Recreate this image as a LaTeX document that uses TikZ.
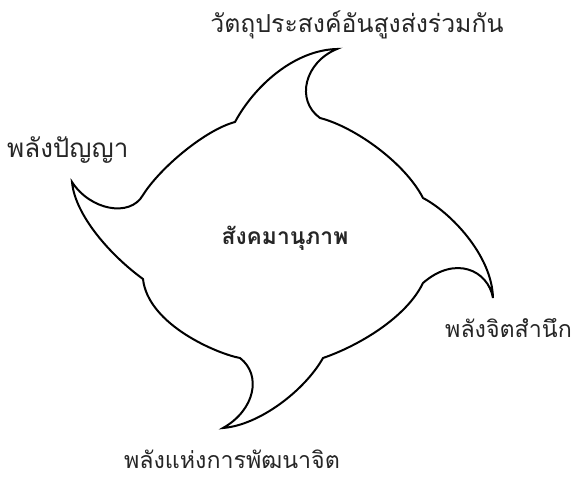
\documentclass[tikz,border=0pt]{standalone}
\usepackage{fontspec}
\newfontfamily\thaifont[Script=Thai]{Loma}
\newcommand{\thsize}[1]{\thaifont\fontsize{#1}{#1}\selectfont}
\tikzset{
  blob/.style={draw=black, line width=2pt, line join=miter},
  lbl/.style={inner sep=0pt, text=black!85},
  ctr/.style={inner sep=0pt, text=black!85, font=\thaifont\bfseries\fontsize{22.8}{24}\selectfont}
}
\begin{document}
\begin{tikzpicture}[x=1pt,y=-1pt]
\useasboundingbox (0,0) rectangle (576,478);
\coordinate (A) at (235,122);
\coordinate (T1) at (337,49);
\coordinate (B) at (320,118);
\coordinate (C) at (423,198);
\coordinate (T2) at (493,298);
\coordinate (D) at (423,283);
\coordinate (E) at (323,358);
\coordinate (T3) at (223,428);
\coordinate (F) at (240,358);
\coordinate (G) at (143,279);
\coordinate (T4) at (72,182);
\coordinate (H) at (143,195);
\draw[blob] (A) .. controls (255,85) and (295,50) .. (T1)
  .. controls (305,62) and (295,100) .. (B)
  .. controls (355,127) and (405,163) .. (C)
  .. controls (450,212) and (492,255) .. (T2)
  .. controls (488,270) and (455,255) .. (D)
  .. controls (406,318) and (358,346) .. (E)
  .. controls (305,390) and (260,425) .. (T3)
  .. controls (255,410) and (262,375) .. (F)
  .. controls (218,354) and (148,325) .. (G)
  .. controls (110,255) and (75,215) .. (T4)
  .. controls (90,210) and (130,218) .. (H)
  .. controls (160,168) and (205,130) .. (A) -- cycle;
\node[lbl, font=\thsize{24.8}, anchor=base] (top) at (357,33) {วัตถุประสงค์อันสูงส่งร่วมกัน};
\node[lbl, font=\thsize{26}, anchor=base west] (left) at (7,158) {พลังปัญญา};
\node[ctr, anchor=base] (center) at (285,245) {สังคมานุภาพ};
\node[lbl, font=\thsize{23.2}, anchor=base east] (right) at (572,338) {พลังจิตสำนึก};
\node[lbl, font=\thsize{23.2}, anchor=base] (bottom) at (232,468) {พลังแห่งการพัฒนาจิต};
\end{tikzpicture}
\end{document}
